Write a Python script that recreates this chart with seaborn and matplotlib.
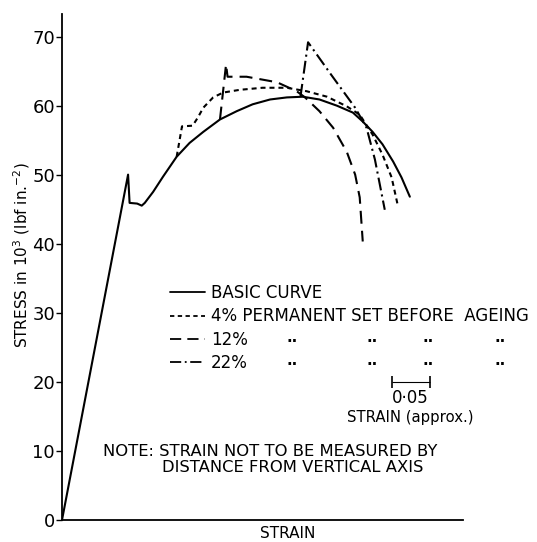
import matplotlib
matplotlib.use("Agg")
import matplotlib.pyplot as plt
import numpy as np
import pandas as pd
import seaborn as sns

# ---------------- data (strain, stress in 10^3 lbf/in^2) ----------------
basic_x = [0.000, 0.087, 0.089, 0.099, 0.105, 0.109, 0.120, 0.133, 0.151, 0.168,
           0.186, 0.208, 0.230, 0.251, 0.274, 0.296, 0.317, 0.339, 0.362, 0.383,
           0.396, 0.409, 0.422, 0.436, 0.447, 0.458]
basic_y = [0.0, 50.1, 46.0, 45.9, 45.6, 46.0, 47.6, 49.8, 52.7, 54.7,
           56.3, 58.1, 59.3, 60.3, 61.0, 61.3, 61.4, 61.0, 60.1, 59.1,
           57.8, 56.3, 54.5, 52.0, 49.7, 46.9]

set4_x = [0.151, 0.158, 0.172, 0.179, 0.186, 0.199, 0.212, 0.234, 0.264, 0.296,
          0.322, 0.349, 0.375, 0.392, 0.409, 0.422, 0.434, 0.442]
set4_y = [52.7, 57.1, 57.2, 58.4, 59.8, 61.3, 62.0, 62.4, 62.7, 62.7,
          62.2, 61.4, 60.0, 58.8, 55.9, 53.0, 49.7, 45.7]

set12_x = [0.208, 0.216, 0.218, 0.243, 0.283, 0.309, 0.320, 0.339, 0.357, 0.375,
           0.386, 0.392, 0.396]
set12_y = [58.1, 66.1, 64.3, 64.3, 63.5, 62.2, 61.3, 59.3, 56.9, 53.4,
           50.1, 46.8, 40.4]

set22_x = [0.314, 0.324, 0.355, 0.386, 0.401, 0.412, 0.425]
set22_y = [61.4, 69.3, 64.5, 59.8, 56.9, 52.3, 45.0]

series_names = ["BASIC CURVE", "4% PERMANENT SET BEFORE  AGEING", "12%", "22%"]
yticks = [0, 10, 20, 30, 40, 50, 60, 70]
scale_strain = 0.05
scale_center = (0.459, 20.0)

# ---------------- build frame ----------------
frames = []
for name, xs, ys in zip(series_names,
                        [basic_x, set4_x, set12_x, set22_x],
                        [basic_y, set4_y, set12_y, set22_y]):
    frames.append(pd.DataFrame({"strain": xs, "stress": ys, "series": name}))
df = pd.concat(frames, ignore_index=True)

sns.set_style("ticks")
plt.rcParams["font.family"] = ["DejaVu Sans"]
plt.rcParams["text.color"] = "black"
plt.rcParams["axes.labelcolor"] = "black"
plt.rcParams["xtick.color"] = "black"
plt.rcParams["ytick.color"] = "black"

W, H = 537, 542
fig = plt.figure(figsize=(W / 100, H / 100), dpi=100)
ax = fig.add_axes([62 / W, 22 / H, 401 / W, 506 / H])

dashes = {series_names[0]: "",
          series_names[1]: (2.4, 1.9),
          series_names[2]: (6.2, 3.4),
          series_names[3]: (6.2, 2.0, 1.0, 2.0)}

sns.lineplot(data=df, x="strain", y="stress", style="series", dashes=dashes,
             color="black", linewidth=1.5, sort=False, estimator=None, ax=ax)

ax.set_xlim(0, 0.528)
ax.set_ylim(0, 73.4)
ax.set_xticks([])
ax.set_yticks(yticks)
ax.set_yticklabels([str(v) for v in yticks], fontsize=13)
ax.tick_params(axis="y", direction="out", length=4, width=1, pad=1, colors="black")
sns.despine(ax=ax)
for s in ["left", "bottom"]:
    ax.spines[s].set_linewidth(1.3)
    ax.spines[s].set_color("black")

ax.set_ylabel("STRESS in 10$^3$ (lbf in.$^{-2}$)", fontsize=11)
ax.yaxis.set_label_coords((32 - 62) / 401, (520 - 255) / 506)
ax.set_xlabel("STRAIN", fontsize=11)
ax.xaxis.set_label_coords((288 - 62) / 401, (520 - 526) / 506)

# legend
handles, labels = ax.get_legend_handles_labels()
leg = ax.legend(handles, labels, loc="upper left",
                bbox_to_anchor=(170 / W, 1 - 284 / H), bbox_transform=fig.transFigure,
                frameon=False, fontsize=12, handlelength=2.1, handletextpad=0.35,
                labelspacing=0.32, borderpad=0, borderaxespad=0)
for h in leg.get_lines():
    h.set_linewidth(1.3)
    h.set_color("black")

# ditto marks
for ypx in (342, 365):
    for xpx in (292, 372, 428, 500):
        fig.text(xpx / W, 1 - ypx / H, "..", ha="center", va="baseline",
                 fontsize=11, fontweight="bold")

# scale bar
ax.errorbar([scale_center[0]], [scale_center[1]], xerr=[scale_strain / 2],
            fmt="none", ecolor="black", elinewidth=0.8, capsize=4, capthick=1.2)
ax.text(scale_center[0], scale_center[1] - 1.0, "0\u00b705", ha="center", va="top", fontsize=12)
ax.text(scale_center[0], scale_center[1] - 4.1, "STRAIN (approx.)", ha="center", va="top",
        fontsize=10.7)

# note
ax.text((103 - 62) / 401, (520 - 452) / 506, "NOTE: STRAIN NOT TO BE MEASURED BY",
        transform=ax.transAxes, ha="left", va="center", fontsize=11.8)
ax.text((162 - 62) / 401, (520 - 468) / 506, "DISTANCE FROM VERTICAL AXIS",
        transform=ax.transAxes, ha="left", va="center", fontsize=11.8)

fig.savefig("out.png", dpi=100, facecolor="white")
